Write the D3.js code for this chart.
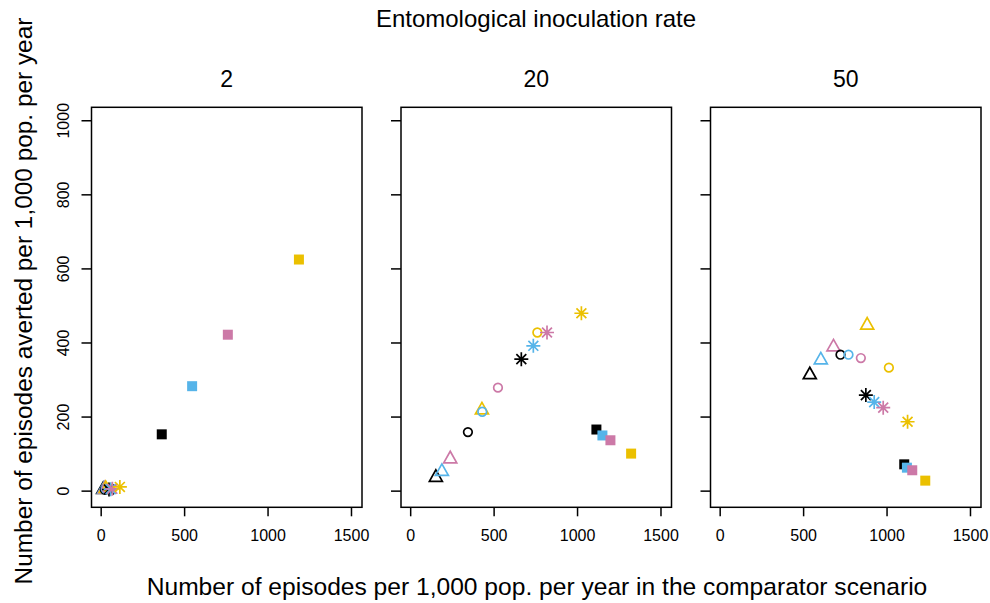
<!DOCTYPE html>
<html>
<head>
<meta charset="utf-8">
<script src="https://cdn.jsdelivr.net/npm/d3@7"></script>
<style>
  body { margin: 0; background: #fff; }
  text { font-family: "Liberation Sans", Arial, sans-serif; }
</style>
</head>
<body>
<script>
var w = 990;
var h = 603;

// panels (EIR levels)
var eirLevels = ["2", "20", "50"];
// marker order within each panel: shape by colour
var shapes = ["triangle", "circle", "asterisk", "square"];
var colours = ["#000000", "#56B4E9", "#CC79A7", "#EBC000"];

// x: episodes in comparator, y: episodes averted  (shape rows, colour columns)
var xEir2 = [[15, 20, 25, 30], [25, 30, 35, 45], [50, 60, 70, 115], [366, 548, 762, 1188]];
var yEir2 = [[3, 4, 5, 6], [3, 5, 6, 8], [3, 4, 5, 10], [152, 282, 421, 624]];
var xEir20 = [[154, 190, 240, 430], [346, 432, 526, 762], [666, 738, 820, 1026], [1116, 1152, 1200, 1324]];
var yEir20 = [[36, 52, 86, 218], [158, 213, 278, 427], [355, 391, 427, 479], [165, 149, 136, 100]];
var xEir50 = [[540, 606, 682, 884], [724, 772, 846, 1014], [876, 926, 980, 1126], [1106, 1122, 1154, 1232]];
var yEir50 = [[313, 353, 388, 447], [367, 367, 358, 332], [258, 239, 224, 186], [71, 62, 55, 27]];

var xTicks = [0, 500, 1000, 1500];
var yTicks = [0, 200, 400, 600, 800, 1000];

var panelX = [91.5, 401, 710.5];
var panelW = 270.5;
var panelTop = 107.3;
var panelH = 400;

var xs = [xEir2, xEir20, xEir50];
var ys = [yEir2, yEir20, yEir50];

var svg = d3.select("body").append("svg")
  .attr("width", w)
  .attr("height", h);

var x = d3.scaleLinear().domain([-55, 1566]).range([0, panelW]);
var y = d3.scaleLinear().domain([-45, 1035]).range([panelH, 0]);

function markerPath(shape) {
  if (shape == "triangle") {
    return "M0,-7.5L6.5,4L-6.5,4Z";
  }
  if (shape == "circle") {
    return d3.arc()({innerRadius: 0, outerRadius: 4.3, startAngle: 0, endAngle: 2 * Math.PI});
  }
  if (shape == "asterisk") {
    var r = 7, d = r * Math.SQRT1_2;
    return "M" + (-r) + ",0L" + r + ",0M0," + (-r) + "L0," + r +
      "M" + (-d) + "," + (-d) + "L" + d + "," + d + "M" + (-d) + "," + d + "L" + d + "," + (-d);
  }
  return "M-5,-5L5,-5L5,5L-5,5Z";
}

svg.append("text")
  .attr("x", 536)
  .attr("y", 27)
  .attr("text-anchor", "middle")
  .attr("font-size", "24px")
  .text("Entomological inoculation rate");

eirLevels.forEach(function(eir, p) {
  var g = svg.append("g").attr("transform", "translate(" + panelX[p] + "," + panelTop + ")");

  var pts = [];
  shapes.forEach(function(s, si) {
    colours.forEach(function(c, ci) {
      pts.push({shape: s, colour: c, x: xs[p][si][ci], y: ys[p][si][ci]});
    });
  });

  g.selectAll("path.pt")
    .data(pts)
    .enter()
    .append("path")
    .attr("class", "pt")
    .attr("transform", function(d) { return "translate(" + x(d.x) + "," + y(d.y) + ")"; })
    .attr("d", function(d) { return markerPath(d.shape); })
    .attr("fill", function(d) { return d.shape == "square" ? d.colour : "none"; })
    .attr("stroke", function(d) { return d.shape == "square" ? "none" : d.colour; })
    .attr("stroke-width", 1.7);

  g.append("rect")
    .attr("width", panelW)
    .attr("height", panelH)
    .attr("fill", "none")
    .attr("stroke", "#000")
    .attr("stroke-width", 1.5);

  var xAxis = g.append("g")
    .attr("transform", "translate(0," + panelH + ")")
    .call(d3.axisBottom(x).tickValues(xTicks).tickSize(9).tickFormat(d3.format("d")));
  var yAxis = g.append("g")
    .call(d3.axisLeft(y).tickValues(yTicks).tickSize(10)
      .tickFormat(p == 0 ? d3.format("d") : function() { return ""; }));

  [xAxis, yAxis].forEach(function(a) {
    a.select(".domain").remove();
    a.selectAll("line").attr("stroke-width", 1.5);
    a.selectAll("text")
      .attr("font-family", "Liberation Sans, Arial, sans-serif")
      .attr("font-size", "16px")
      .attr("fill", "#000");
  });
  xAxis.selectAll("text")
    .attr("y", 34)
    .attr("dy", 0);
  // R style: y tick labels vertical
  yAxis.selectAll("text")
    .attr("x", 0)
    .attr("dy", 0)
    .attr("transform", "translate(-23,0) rotate(-90)")
    .attr("text-anchor", "middle");

  g.append("text")
    .attr("x", panelW / 2)
    .attr("y", 87 - panelTop)
    .attr("text-anchor", "middle")
    .attr("font-size", "23px")
    .text(eir);
});

svg.append("text")
  .attr("x", 537)
  .attr("y", 595)
  .attr("text-anchor", "middle")
  .attr("font-size", "24.6px")
  .text("Number of episodes per 1,000 pop. per year in the comparator scenario");

svg.append("text")
  .attr("transform", "translate(32,301) rotate(-90)")
  .attr("text-anchor", "middle")
  .attr("font-size", "24.4px")
  .text("Number of episodes averted per 1,000 pop. per year");
</script>
</body>
</html>
